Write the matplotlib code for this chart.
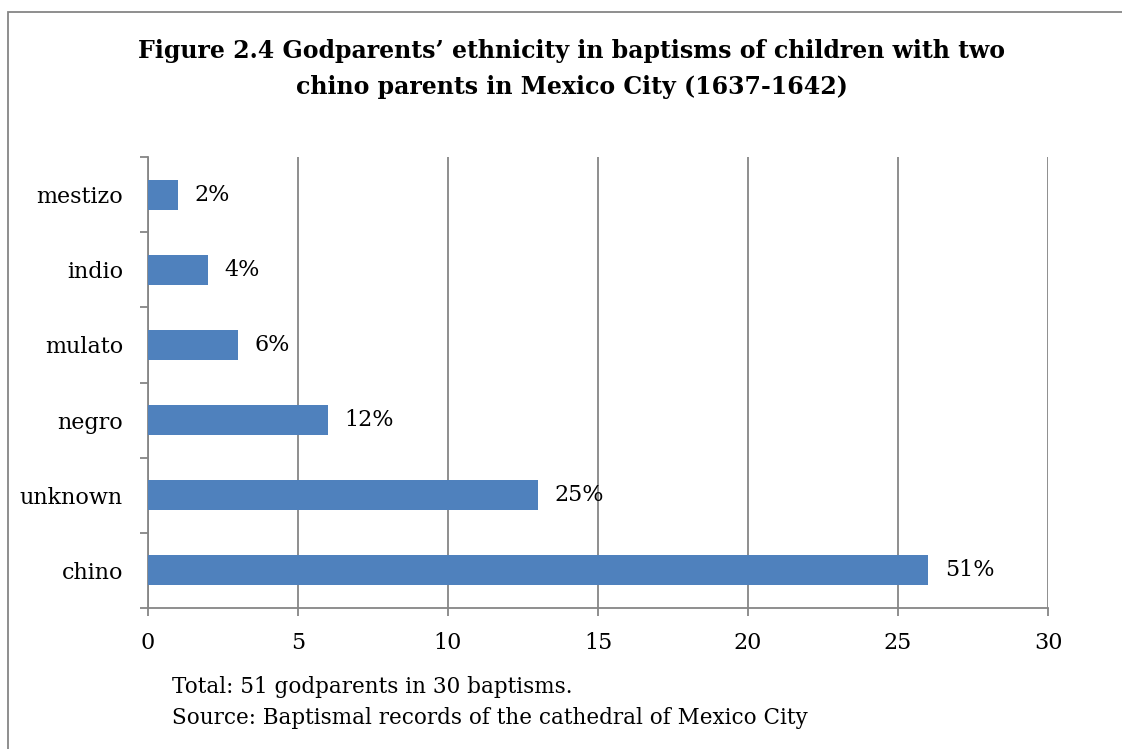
import matplotlib
matplotlib.use("Agg")
import matplotlib.pyplot as plt
from matplotlib.patches import Rectangle

categories = ["chino", "unknown", "negro", "mulato", "indio", "mestizo"]
counts = [26, 13, 6, 3, 2, 1]
shares = ["51%", "25%", "12%", "6%", "4%", "2%"]
xticks = [0, 5, 10, 15, 20, 25, 30]

plt.rcParams["font.family"] = ["DejaVu Serif"]
grey = "#868686"

fig = plt.figure(figsize=(11.22, 7.49), dpi=100)
ax = fig.add_axes([148 / 1122, 1 - 608 / 749, 900 / 1122, 451 / 749])

# outer frame (top and left edges visible)
fig.add_artist(Rectangle((8 / 1122, -0.1), 1.2, 1 - 12 / 749 + 0.1,
                         transform=fig.transFigure, fill=False,
                         edgecolor=grey, lw=1.3))

y = range(len(categories))
ax.barh(y, counts, height=0.4, color="#4F81BD", zorder=3)
for yi, c, s in zip(y, counts, shares):
    ax.annotate(s, (c, yi), xytext=(12, 0), textcoords="offset points",
                va="center", ha="left", fontsize=16)

ax.set_xlim(0, 30)
ax.set_ylim(-0.5, len(categories) - 0.5)
ax.set_xticks(xticks)
ax.set_yticks(list(y))
ax.set_yticklabels(categories)
ax.set_yticks([i - 0.5 for i in range(len(categories) + 1)], minor=True)
ax.tick_params(axis="y", which="major", length=0, pad=18, labelsize=16)
ax.tick_params(axis="y", which="minor", length=6, color=grey, width=1.3)
ax.tick_params(axis="x", length=6, color=grey, width=1.3, pad=11, labelsize=16)
ax.xaxis.grid(True, color=grey, lw=1.3, zorder=0)
for side in ["top", "right"]:
    ax.spines[side].set_visible(False)
for side in ["left", "bottom"]:
    ax.spines[side].set_color(grey)
    ax.spines[side].set_linewidth(1.3)

fig.text(572 / 1122, 1 - 69 / 749,
         "Figure 2.4 Godparents’ ethnicity in baptisms of children with two\n"
         "chino parents in Mexico City (1637-1642)",
         ha="center", va="center", fontsize=17, fontweight="bold",
         linespacing=1.6)
fig.text(172 / 1122, 1 - 687 / 749, "Total: 51 godparents in 30 baptisms.",
         ha="left", va="center", fontsize=15.5)
fig.text(172 / 1122, 1 - 718 / 749,
         "Source: Baptismal records of the cathedral of Mexico City",
         ha="left", va="center", fontsize=15.5)

fig.savefig("out.png", dpi=100)
